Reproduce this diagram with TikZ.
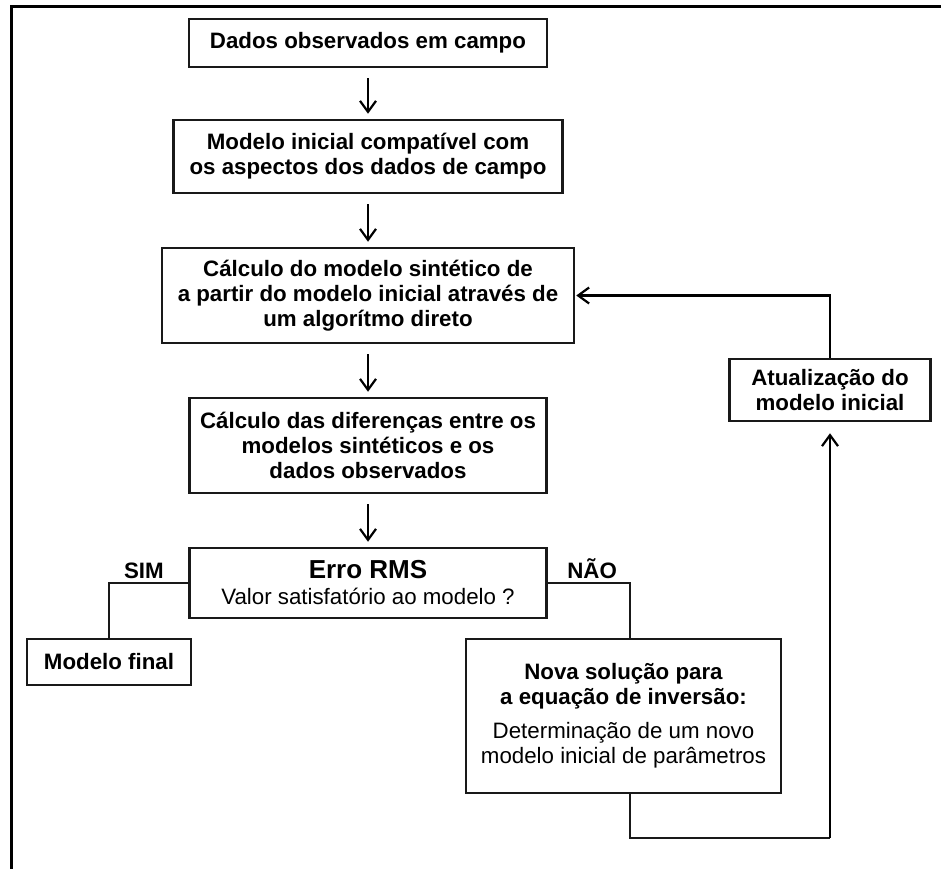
\documentclass[tikz,border=0pt]{standalone}
\usepackage{fontspec}
\setmainfont{Liberation Sans}
\usetikzlibrary{arrows.meta}

\begin{document}
\begin{tikzpicture}[x=1pt,y=-1pt,
	caixa/.style={draw=black!90,line width=2.5pt,align=center,inner sep=0pt,
		font=\fontsize{22.3}{25}\selectfont\bfseries},
	seta/.style={line width=2.2pt,-{Straight Barb[length=11pt,width=16pt,line width=2.2pt]}},
	liga/.style={line width=2.5pt,draw=black!90},
	rotulo/.style={font=\fontsize{22.3}{25}\selectfont\bfseries,inner sep=3pt}]
	
	\useasboundingbox (0,0) rectangle (941,869);
	
	% Moldura
	\draw[line width=3pt] (941,7) -- (11,7) -- (11,869);
	
	% Caixas do fluxo principal
	\node[caixa,minimum width=358pt,minimum height=48pt] (dados) at (368,43) {Dados observados em campo};
	\node[caixa,minimum width=389pt,minimum height=73pt] (modini) at (368,156.5)
		{Modelo inicial compatível com\\os aspectos dos dados de campo};
	\node[caixa,minimum width=412pt,minimum height=95pt] (calc) at (368,295.5)
		{Cálculo do modelo sintético de\\a partir do modelo inicial através de\\um algorítmo direto};
	\node[caixa,minimum width=357pt,minimum height=95pt] (dif) at (368,445.5)
		{Cálculo das diferenças entre os\\modelos sintéticos e os\\dados observados};
	\node[caixa,minimum width=357pt,minimum height=70pt] (erro) at (368,583)
		{{\fontsize{26}{28}\selectfont Erro RMS}\\[1pt]\mdseries Valor satisfatório ao modelo ?};
	
	% Saidas
	\node[caixa,minimum width=164pt,minimum height=46pt] (final) at (109,662) {Modelo final};
	\node[caixa,minimum width=315pt,minimum height=154pt] (nova) at (623.5,716)
		{Nova solução para\\a equação de inversão:\\[9pt]\mdseries Determinação de um novo\\\mdseries modelo inicial de parâmetros};
	\node[caixa,minimum width=201pt,minimum height=62pt] (atual) at (830,390)
		{Atualização do\\modelo inicial};
	
	\coordinate (nao) at (630,582);
	\coordinate (volta) at (830,838);
	
	% Setas entre caixas
	\draw[seta,shorten <=10pt,shorten >=5pt] (dados) -- (modini);
	\draw[seta,shorten <=10pt,shorten >=5pt] (modini) -- (calc);
	\draw[seta,shorten <=10pt,shorten >=5pt] (calc) -- (dif);
	\draw[seta,shorten <=10pt,shorten >=5pt] (dif) -- (erro);
	
	% SIM / NAO
	\draw[liga] (erro.west) -| node[rotulo,pos=0.28,above]{SIM} (final.north);
	\draw[liga] (erro.east) -| node[rotulo,pos=0.27,above]{NÃO} (nao |- nova.north);
	
	% Laco de retorno
	\draw[liga] (nao |- nova.south) |- (volta);
	\draw[seta,shorten >=11pt] (volta) -- (atual.south);
	\draw[seta,shorten >=1pt] (atual.north) |- (calc.east);
	
\end{tikzpicture}
\end{document}
